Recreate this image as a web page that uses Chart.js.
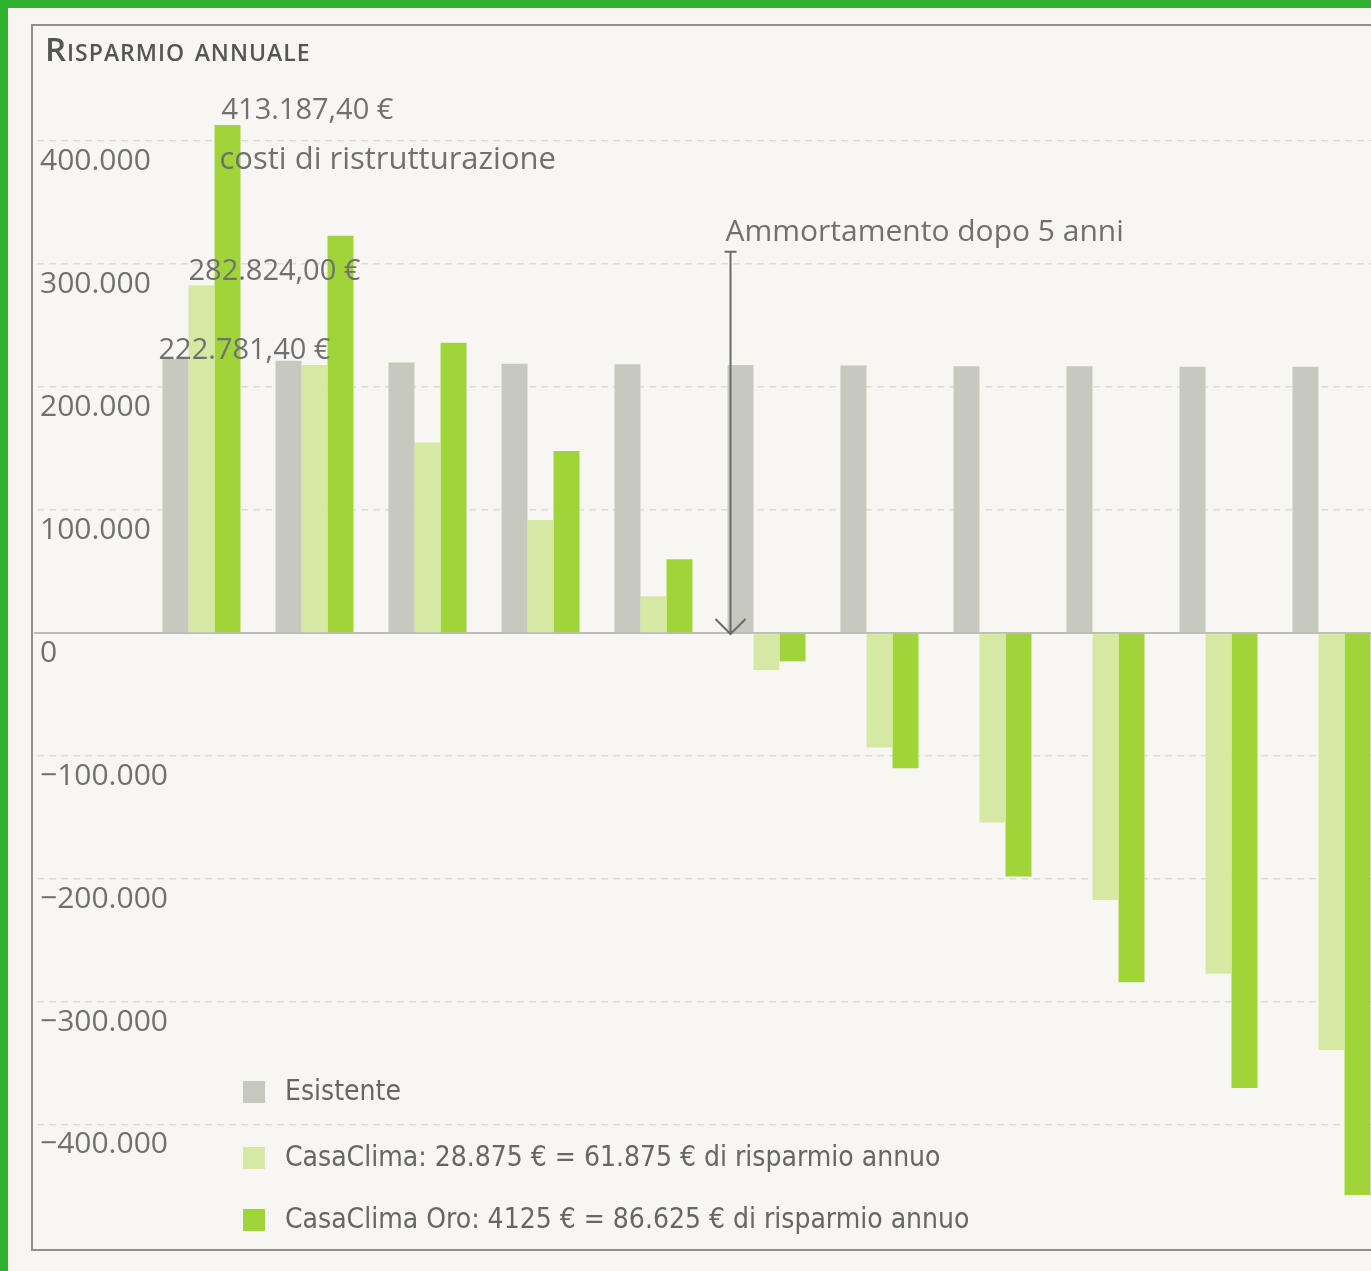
<!DOCTYPE html>
<html>
<head>
<meta charset="utf-8">
<script src="https://cdn.jsdelivr.net/npm/chart.js@4.4.1/dist/chart.umd.min.js"></script>
<style>
  html, body { margin: 0; padding: 0; background: #2fb02f; overflow: hidden; }
  #wrap { position: absolute; left: 8px; top: 8px; width: 1363px; height: 1263px; overflow: hidden; background: #f8f6f3; }
  #chart { position: absolute; left: -8px; top: -8px; }
</style>
</head>
<body>
<div id="wrap"><canvas id="chart" width="1400" height="1271"></canvas></div>
<script>
// years after renovation (no labels shown on the x axis)
const years = ["1", "2", "3", "4", "5", "6", "7", "8", "9", "10", "11"];

// cumulative balance in euro
const esistente = [222781, 221500, 220000, 219000, 218500, 218000, 217500, 217000, 217000, 216500, 216500];
const casaClima = [282824, 218000, 155000, 92000, 30000, -30000, -93000, -154000, -217000, -277000, -339000];
const casaClimaOro = [413187, 323000, 236000, 148000, 60000, -23000, -110000, -198000, -284000, -370000, -457000];

// y axis ticks
const yTicks = [-400000, -300000, -200000, -100000, 0, 100000, 200000, 300000, 400000];

const seriesLabels = [
  "Esistente",
  "CasaClima: 28.875 € = 61.875 € di risparmio annuo",
  "CasaClima Oro: 4125 € = 86.625 € di risparmio annuo"
];
const seriesColors = ["#c7c9bf", "#d6e9a2", "#a0d53a"];

const textGrey = "#707070";
const gridGrey = "#dedcd7";
const mainFont = "'Open Sans', 'DejaVu Sans', sans-serif";

// formats 400000 as "400.000" and negatives with a minus sign
function formatEuro(v) {
  const s = Math.abs(v).toString().replace(/\B(?=(\d{3})+(?!\d))/g, ".");
  return v < 0 ? "\u2212" + s : s;
}

// frame, title, zero line, notes, arrow and legend
const decorPlugin = {
  id: "decor",
  beforeDatasetsDraw(chart) {
    const ctx = chart.ctx;
    const y0 = chart.scales.y.getPixelForValue(0);
    ctx.save();
    ctx.strokeStyle = "#bdbdb8";
    ctx.lineWidth = 2;
    ctx.beginPath();
    ctx.moveTo(34, y0);
    ctx.lineTo(chart.width, y0);
    ctx.stroke();
    ctx.restore();
  },
  afterDraw(chart) {
    const ctx = chart.ctx;
    const yScale = chart.scales.y;
    ctx.save();

    // frame
    ctx.strokeStyle = "#8f8f8f";
    ctx.lineWidth = 2;
    ctx.beginPath();
    ctx.moveTo(chart.width, 25);
    ctx.lineTo(32, 25);
    ctx.lineTo(32, 1250);
    ctx.lineTo(chart.width, 1250);
    ctx.stroke();

    // title
    ctx.fillStyle = "#555";
    ctx.font = "small-caps 600 33px " + mainFont;
    ctx.letterSpacing = "1px";
    ctx.textBaseline = "alphabetic";
    ctx.fillText("Risparmio annuale", 45, 61);
    ctx.letterSpacing = "0px";

    // value notes above the first group
    const barE = chart.getDatasetMeta(0).data[0];
    const barC = chart.getDatasetMeta(1).data[0];
    const barO = chart.getDatasetMeta(2).data[0];
    ctx.fillStyle = textGrey;
    ctx.font = "29px " + mainFont;
    ctx.fillText("413.187,40 €", barO.x - barO.width / 2 + 7, barO.y - 6);
    ctx.fillText("282.824,00 €", barC.x - barC.width / 2, barC.y - 5);
    ctx.fillText("222.781,40 €", barE.x - barE.width / 2 - 4, barE.y);
    ctx.font = "31px " + mainFont;
    ctx.fillText("costi di ristrutturazione", barO.x - barO.width / 2 + 5, barO.y + 44);

    // payback arrow at the sixth group
    const pay = chart.getDatasetMeta(0).data[5];
    const ax = pay.x - pay.width / 2 + 3;
    const yTop = yScale.getPixelForValue(310000);
    const yBot = yScale.getPixelForValue(0) + 1;
    ctx.font = "30px " + mainFont;
    ctx.fillText("Ammortamento dopo 5 anni", ax - 5, yTop - 11);
    ctx.strokeStyle = "#6a6a6a";
    ctx.lineWidth = 2;
    ctx.beginPath();
    ctx.moveTo(ax - 6, yTop);
    ctx.lineTo(ax + 6, yTop);
    ctx.moveTo(ax, yTop);
    ctx.lineTo(ax, yBot);
    ctx.moveTo(ax - 15, yBot - 15);
    ctx.lineTo(ax, yBot);
    ctx.lineTo(ax + 15, yBot - 15);
    ctx.stroke();

    // legend in the lower left corner
    const rows = [1092, 1158, 1220];
    ctx.font = "28px 'Liberation Sans Narrow', 'DejaVu Sans Condensed', sans-serif";
    ctx.textBaseline = "middle";
    chart.data.datasets.forEach((ds, i) => {
      ctx.fillStyle = ds.backgroundColor;
      ctx.fillRect(243, rows[i] - 11, 22, 22);
      ctx.fillStyle = "#666";
      ctx.fillText(ds.label, 285, rows[i] + 1);
    });
    ctx.restore();
  }
};

const ctx = document.getElementById("chart").getContext("2d");
new Chart(ctx, {
  type: "bar",
  data: {
    labels: years,
    datasets: [
      { label: seriesLabels[0], data: esistente, backgroundColor: seriesColors[0] },
      { label: seriesLabels[1], data: casaClima, backgroundColor: seriesColors[1] },
      { label: seriesLabels[2], data: casaClimaOro, backgroundColor: seriesColors[2] }
    ]
  },
  options: {
    responsive: false,
    devicePixelRatio: 1,
    animation: false,
    layout: { padding: { left: 35, right: 12, top: 92, bottom: 60 } },
    datasets: { bar: { categoryPercentage: 0.69, barPercentage: 1.0, borderWidth: 0 } },
    plugins: {
      legend: { display: false },
      title: { display: false },
      tooltip: { enabled: false }
    },
    scales: {
      x: { display: false },
      y: {
        min: -470000,
        max: 440000,
        afterBuildTicks(scale) {
          scale.ticks = yTicks.map(v => ({ value: v }));
        },
        afterFit(scale) {
          scale.width = 110;
        },
        border: { display: false, dash: [7, 5] },
        grid: {
          color: gridGrey,
          lineWidth: 1.5,
          drawTicks: true,
          tickLength: 108,
          tickColor: gridGrey,
          tickBorderDash: [7, 5]
        },
        ticks: {
          mirror: true,
          crossAlign: "near",
          padding: -105,
          labelOffset: 20,
          color: textGrey,
          font: { family: mainFont, size: 30 },
          callback: v => formatEuro(v)
        }
      }
    }
  },
  plugins: [decorPlugin]
});
</script>
</body>
</html>
